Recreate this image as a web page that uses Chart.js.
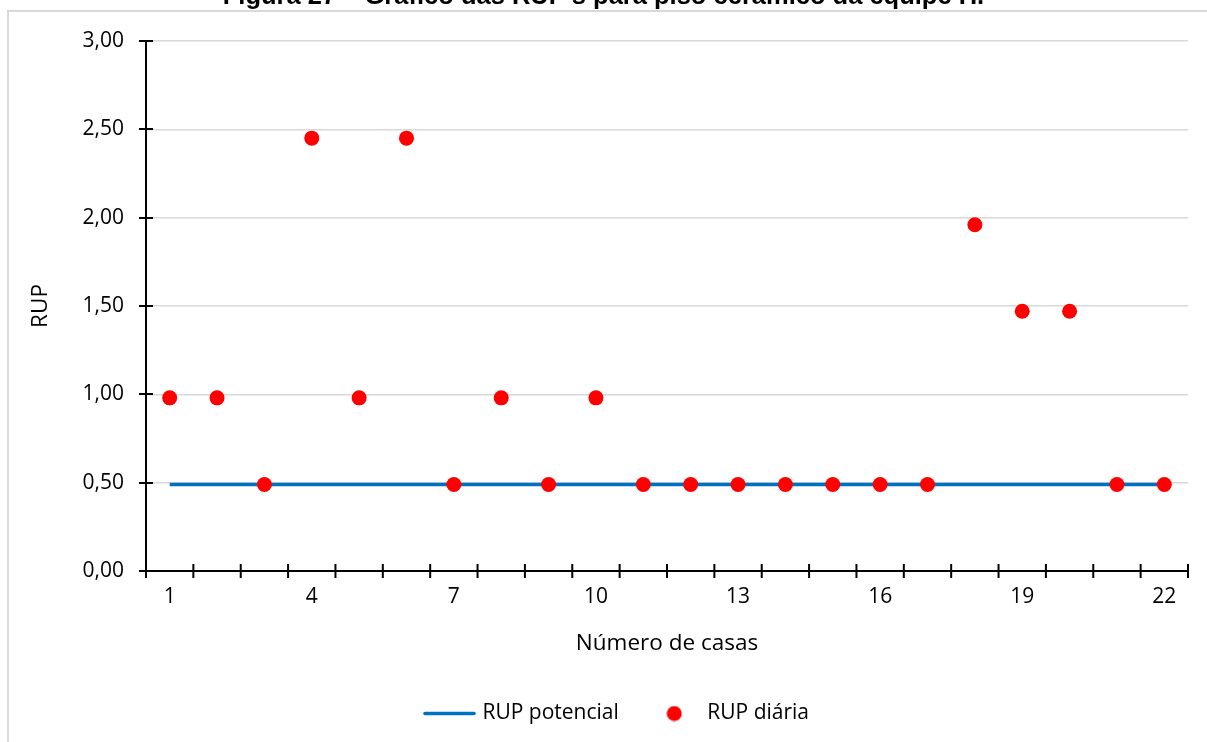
<!DOCTYPE html>
<html>
<head>
<meta charset="utf-8">
<script src="https://cdn.jsdelivr.net/npm/chart.js@4.4.1/dist/chart.umd.min.js"></script>
<style>
  html, body { margin: 0; padding: 0; background: #fff; overflow: hidden; }
  #wrap { position: relative; width: 1207px; height: 742px; }
  #frame { position: absolute; left: 7px; top: 10px; width: 1220px; height: 760px;
           border-top: 2px solid #d9d9d9; border-left: 2px solid #d9d9d9; }
  #title { position: absolute; left: 0; top: -17px; width: 1207px; text-align: center;
           font-family: "Liberation Sans", Arial, sans-serif; font-weight: bold; font-size: 25.5px;
           line-height: 1; color: #000; white-space: nowrap; }
  canvas { position: absolute; left: 0; top: 0; }
</style>
</head>
<body>
<div id="wrap">
  <div id="frame"></div>
  <canvas id="c" width="1207" height="742"></canvas>
  <div id="title">Figura 27 – Gráfico das RUP's para piso cerâmico da equipe H.</div>
</div>
<script>
const categories = ["1","2","3","4","5","6","7","8","9","10","11","12","13","14","15","16","17","18","19","20","21","22"];
const rupPotencial = [0.49,0.49,0.49,0.49,0.49,0.49,0.49,0.49,0.49,0.49,0.49,0.49,0.49,0.49,0.49,0.49,0.49,0.49,0.49,0.49,0.49,0.49];
const rupDiaria = [0.98,0.98,0.49,2.45,0.98,2.45,0.49,0.98,0.49,0.98,0.49,0.49,0.49,0.49,0.49,0.49,0.49,1.96,1.47,1.47,0.49,0.49];
const yTicks = [0, 0.5, 1, 1.5, 2, 2.5, 3];

const FONT = "Open Sans";
const FSIZE = 21;
const TSIZE = 22.5;
const BLUE = "#0070C0";
const RED = "#FF0000";

function makeLineIcon() {
  const c = document.createElement('canvas');
  c.width = 53; c.height = 5;
  const g = c.getContext('2d');
  g.strokeStyle = BLUE; g.lineWidth = 3.5; g.lineCap = 'round';
  g.beginPath(); g.moveTo(2, 2.5); g.lineTo(51, 2.5); g.stroke();
  return c;
}
function makeDotIcon() {
  const c = document.createElement('canvas');
  c.width = 16; c.height = 16;
  const g = c.getContext('2d');
  g.fillStyle = RED;
  g.beginPath(); g.arc(8, 8, 7.5, 0, Math.PI * 2); g.fill();
  return c;
}
const lineIcon = makeLineIcon();
const dotIcon = makeDotIcon();

const crossTicks = {
  id: 'crossTicks',
  afterDatasetsDraw(chart) {
    const ctx = chart.ctx;
    const xs = chart.scales.x, ys = chart.scales.y;
    ctx.save();
    ctx.strokeStyle = '#000';
    ctx.lineWidth = 2;
    ctx.beginPath();
    ctx.moveTo(xs.left, ys.top); ctx.lineTo(xs.left, ys.bottom);
    ctx.moveTo(xs.left - 7, ys.bottom); ctx.lineTo(xs.right, ys.bottom);
    yTicks.forEach(v => {
      const y = Math.round(ys.getPixelForValue(v));
      ctx.moveTo(xs.left - 7, y); ctx.lineTo(xs.left + 7, y);
    });
    for (let i = 0; i <= categories.length; i++) {
      const x = xs.getPixelForValue(i - 0.5);
      ctx.moveTo(x, ys.bottom - 7); ctx.lineTo(x, ys.bottom + 7);
    }
    ctx.stroke();
    ctx.restore();
  }
};

const legendShift = {
  id: 'legendShift',
  afterLayout(chart) {
    const lg = chart.legend;
    if (lg) { lg.left += 14; lg.right += 14; }
  }
};

new Chart(document.getElementById('c'), {
  type: 'line',
  data: {
    labels: categories,
    datasets: [
      {
        label: 'RUP potencial',
        data: rupPotencial,
        borderColor: BLUE,
        backgroundColor: BLUE,
        borderWidth: 3.5,
        pointRadius: 0,
        pointHoverRadius: 0,
        fill: false,
        tension: 0,
        order: 2
      },
      {
        label: 'RUP diária',
        data: rupDiaria,
        showLine: false,
        borderColor: RED,
        backgroundColor: RED,
        pointRadius: 7.5,
        pointBorderWidth: 0,
        pointStyle: 'circle',
        order: 1
      }
    ]
  },
  options: {
    responsive: false,
    animation: false,
    devicePixelRatio: 1,
    layout: { padding: { left: 20, right: 19, top: 41, bottom: 8 } },
    plugins: {
      title: { display: false },
      tooltip: { enabled: false },
      legend: {
        position: 'bottom',
        labels: {
          usePointStyle: true,
          pointStyleWidth: 45,
          boxHeight: 16,
          padding: 33,
          color: '#000',
          font: { family: FONT, size: FSIZE },
          generateLabels(chart) {
            const items = Chart.defaults.plugins.legend.labels.generateLabels(chart);
            items.sort((a, b) => a.datasetIndex - b.datasetIndex);
            items.forEach(it => { it.pointStyle = it.datasetIndex === 0 ? lineIcon : dotIcon; });
            return items;
          }
        }
      }
    },
    scales: {
      x: {
        type: 'category',
        offset: true,
        grid: { display: false, offset: true, drawOnChartArea: false, drawTicks: false },
        border: { display: false },
        ticks: {
          autoSkip: false,
          maxRotation: 0,
          padding: 13,
          color: '#000',
          font: { family: FONT, size: FSIZE },
          callback(val, idx) { return idx % 3 === 0 ? categories[idx] : ''; }
        },
        title: {
          display: true,
          text: 'Número de casas',
          color: '#000',
          font: { family: FONT, size: TSIZE },
          padding: { top: 0, bottom: 13 }
        },
        afterFit(scale) { scale.height = 99; }
      },
      y: {
        min: 0,
        max: 3,
        grid: { color: '#d9d9d9', lineWidth: 1.5, drawTicks: false },
        border: { display: false },
        afterBuildTicks(scale) { scale.ticks = yTicks.map(v => ({ value: v })); },
        ticks: {
          padding: 22,
          color: '#000',
          font: { family: FONT, size: FSIZE },
          callback(v) { return v.toFixed(2).replace('.', ','); }
        },
        title: {
          display: true,
          text: 'RUP',
          color: '#000',
          font: { family: FONT, size: TSIZE },
          padding: { top: 7, bottom: 0 }
        },
        afterFit(scale) { scale.width = 126; }
      }
    }
  },
  plugins: [crossTicks, legendShift]
});
</script>
</body>
</html>
